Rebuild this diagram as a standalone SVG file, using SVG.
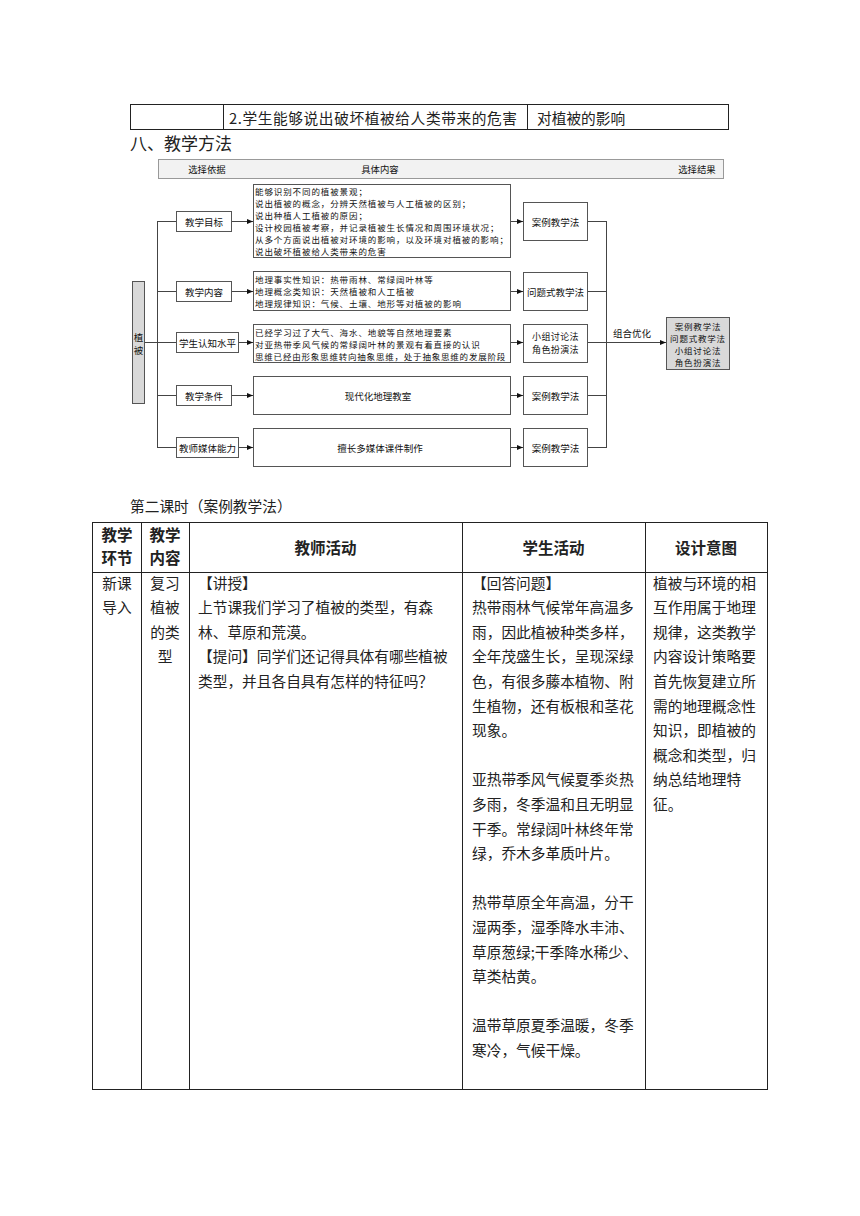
<svg xmlns="http://www.w3.org/2000/svg" width="860" height="1216" viewBox="0 0 860 1216">
<defs>
<style>
text{font-family:"Noto Sans CJK SC","Liberation Sans",sans-serif;fill:#222}
.tb{fill:none;stroke:#222;stroke-width:1}
.t15{font-size:14.7px}
.th{font-size:15.5px;font-weight:bold}
.d{font-size:9.4px;fill:#111}
.ds{font-size:8.5px;letter-spacing:0.9px;fill:#111}
.dl{font-size:9.5px;fill:#111}
.box{fill:#fff;stroke:#555;stroke-width:1}
.gbox{fill:#d9d9d9;stroke:#555;stroke-width:1}
.ln{fill:none;stroke:#444;stroke-width:1}
.c{text-anchor:middle}
</style>
<marker id="ah" viewBox="0 0 6 6" refX="6" refY="3" markerWidth="6" markerHeight="6" orient="auto" markerUnits="userSpaceOnUse">
<path d="M0,0.5 L6,3 L0,5.5 Z" fill="#111"/>
</marker>
</defs>
<rect width="860" height="1216" fill="#fff"/>

<!-- top table fragment -->
<g id="top-table">
<rect class="tb" x="130.5" y="104.5" width="598" height="25"/>
<line class="tb" x1="223.5" y1="104.5" x2="223.5" y2="129.5"/>
<line class="tb" x1="527.5" y1="104.5" x2="527.5" y2="129.5"/>
<text class="t15" x="229" y="117" dominant-baseline="central" style="letter-spacing:0.6px">2.学生能够说出破坏植被给人类带来的危害</text>
<text class="t15" x="537" y="117" dominant-baseline="central">对植被的影响</text>
</g>

<text x="130" y="142" dominant-baseline="central" style="font-size:17px">八、教学方法</text>

<!-- diagram header bar -->
<g id="header-bar">
<rect x="158.5" y="159.5" width="565" height="19" fill="#f2f2f2" stroke="#999"/>
<text class="d c" x="207" y="169" dominant-baseline="central">选择依据</text>
<text class="d c" x="380" y="169" dominant-baseline="central">具体内容</text>
<text class="d c" x="697" y="169" dominant-baseline="central">选择结果</text>
</g>

<!-- connectors -->
<g id="connectors">
<line class="ln" x1="144" y1="342.5" x2="176" y2="342.5"/>
<line class="ln" x1="157.5" y1="221.5" x2="157.5" y2="447.5"/>
<line class="ln" x1="157" y1="221.5" x2="176" y2="221.5"/>
<line class="ln" x1="157" y1="291.5" x2="176" y2="291.5"/>
<line class="ln" x1="157" y1="395.5" x2="176" y2="395.5"/>
<line class="ln" x1="157" y1="447.5" x2="176" y2="447.5"/>
<line class="ln" x1="231" y1="221.5" x2="253" y2="221.5" marker-end="url(#ah)"/>
<line class="ln" x1="231" y1="291.5" x2="253" y2="291.5" marker-end="url(#ah)"/>
<line class="ln" x1="238" y1="342.5" x2="253" y2="342.5" marker-end="url(#ah)"/>
<line class="ln" x1="231" y1="395.5" x2="253" y2="395.5" marker-end="url(#ah)"/>
<line class="ln" x1="238" y1="447.5" x2="253" y2="447.5" marker-end="url(#ah)"/>
<line class="ln" x1="510" y1="221.5" x2="523" y2="221.5" marker-end="url(#ah)"/>
<line class="ln" x1="510" y1="291.5" x2="523" y2="291.5" marker-end="url(#ah)"/>
<line class="ln" x1="510" y1="342.5" x2="523" y2="342.5" marker-end="url(#ah)"/>
<line class="ln" x1="510" y1="395.5" x2="523" y2="395.5" marker-end="url(#ah)"/>
<line class="ln" x1="510" y1="447.5" x2="523" y2="447.5" marker-end="url(#ah)"/>
<line class="ln" x1="587" y1="221.5" x2="606" y2="221.5"/>
<line class="ln" x1="587" y1="291.5" x2="606" y2="291.5"/>
<line class="ln" x1="587" y1="342.5" x2="606" y2="342.5"/>
<line class="ln" x1="587" y1="395.5" x2="606" y2="395.5"/>
<line class="ln" x1="587" y1="447.5" x2="606" y2="447.5"/>
<line class="ln" x1="606.5" y1="221" x2="606.5" y2="448"/>
<line class="ln" x1="606" y1="342.5" x2="666" y2="342.5" marker-end="url(#ah)"/>
<text class="dl c" x="632" y="333" dominant-baseline="central">组合优化</text>
</g>

<g id="node-zhibei">
<rect class="gbox" x="132.5" y="281.5" width="12" height="122"/>
<text class="dl c" x="138.5" y="337" dominant-baseline="central">植</text>
<text class="dl c" x="138.5" y="350" dominant-baseline="central">被</text>
</g>

<g id="node-mubiao">
<rect class="box" x="176.5" y="211.5" width="55" height="20"/>
<text class="dl c" x="204" y="221.5" dominant-baseline="central">教学目标</text>
</g>
<g id="node-neirong">
<rect class="box" x="176.5" y="281.5" width="55" height="20"/>
<text class="dl c" x="204" y="291.5" dominant-baseline="central">教学内容</text>
</g>
<g id="node-renzhi">
<rect class="box" x="176.5" y="332.5" width="62" height="20"/>
<text class="dl c" x="207.5" y="342.5" dominant-baseline="central">学生认知水平</text>
</g>
<g id="node-tiaojian">
<rect class="box" x="176.5" y="385.5" width="55" height="20"/>
<text class="dl c" x="204" y="395.5" dominant-baseline="central">教学条件</text>
</g>
<g id="node-meiti">
<rect class="box" x="176.5" y="437.5" width="62" height="20"/>
<text class="dl c" x="207.5" y="447.5" dominant-baseline="central">教师媒体能力</text>
</g>

<g id="content-1">
<rect class="box" x="253.5" y="184.5" width="257" height="73"/>
<text class="ds" x="255" y="190.5" dominant-baseline="central">能够识别不同的植被景观；</text>
<text class="ds" x="255" y="202.5" dominant-baseline="central">说出植被的概念，分辨天然植被与人工植被的区别；</text>
<text class="ds" x="255" y="214.5" dominant-baseline="central">说出种植人工植被的原因；</text>
<text class="ds" x="255" y="226.5" dominant-baseline="central">设计校园植被考察，并记录植被生长情况和周围环境状况；</text>
<text class="ds" x="255" y="238.5" dominant-baseline="central">从多个方面说出植被对环境的影响，以及环境对植被的影响；</text>
<text class="ds" x="255" y="250.5" dominant-baseline="central">说出破坏植被给人类带来的危害</text>
</g>
<g id="content-2">
<rect class="box" x="253.5" y="271.5" width="257" height="39"/>
<text class="ds" x="255" y="279" dominant-baseline="central">地理事实性知识：热带雨林、常绿阔叶林等</text>
<text class="ds" x="255" y="291" dominant-baseline="central">地理概念类知识：天然植被和人工植被</text>
<text class="ds" x="255" y="303" dominant-baseline="central">地理规律知识：气候、土壤、地形等对植被的影响</text>
</g>
<g id="content-3">
<rect class="box" x="253.5" y="324.5" width="257" height="38"/>
<text class="ds" x="255" y="331.5" dominant-baseline="central">已经学习过了大气、海水、地貌等自然地理要素</text>
<text class="ds" x="255" y="343.5" dominant-baseline="central">对亚热带季风气候的常绿阔叶林的景观有着直接的认识</text>
<text class="ds" x="255" y="355.5" dominant-baseline="central" style="letter-spacing:0.8px">思维已经由形象思维转向抽象思维，处于抽象思维的发展阶段</text>
</g>
<g id="content-4">
<rect class="box" x="253.5" y="376.5" width="257" height="38"/>
<text class="dl c" x="378" y="395.5" dominant-baseline="central">现代化地理教室</text>
</g>
<g id="content-5">
<rect class="box" x="253.5" y="428.5" width="257" height="38"/>
<text class="dl c" x="380" y="447.5" dominant-baseline="central">擅长多媒体课件制作</text>
</g>

<g id="method-1">
<rect class="box" x="523.5" y="202.5" width="64" height="38"/>
<text class="dl c" x="555.5" y="221.5" dominant-baseline="central">案例教学法</text>
</g>
<g id="method-2">
<rect class="box" x="523.5" y="272.5" width="64" height="38"/>
<text class="dl c" x="555.5" y="291.5" dominant-baseline="central">问题式教学法</text>
</g>
<g id="method-3">
<rect class="box" x="523.5" y="324.5" width="64" height="38"/>
<text class="c" x="555.5" y="336.5" dominant-baseline="central" style="font-size:9px;letter-spacing:0.4px;fill:#111">小组讨论法</text>
<text class="c" x="555.5" y="349.5" dominant-baseline="central" style="font-size:9px;letter-spacing:0.4px;fill:#111">角色扮演法</text>
</g>
<g id="method-4">
<rect class="box" x="523.5" y="376.5" width="64" height="38"/>
<text class="dl c" x="555.5" y="395.5" dominant-baseline="central">案例教学法</text>
</g>
<g id="method-5">
<rect class="box" x="523.5" y="428.5" width="64" height="38"/>
<text class="dl c" x="555.5" y="447.5" dominant-baseline="central">案例教学法</text>
</g>
<g id="result">
<rect class="gbox" x="666.5" y="317.5" width="63" height="52"/>
<text class="ds c" x="698" y="325.5" dominant-baseline="central" style="letter-spacing:0.8px">案例教学法</text>
<text class="ds c" x="698" y="337.5" dominant-baseline="central" style="letter-spacing:0.8px">问题式教学法</text>
<text class="ds c" x="698" y="349.5" dominant-baseline="central" style="letter-spacing:0.8px">小组讨论法</text>
<text class="ds c" x="698" y="361.5" dominant-baseline="central" style="letter-spacing:0.8px">角色扮演法</text>
</g>

<text class="t15" x="130" y="505" dominant-baseline="central">第二课时（案例教学法）</text>

<!-- lesson table -->
<g id="lesson-table">
<rect class="tb" x="92.5" y="522.5" width="675" height="567"/>
<line class="tb" x1="92.5" y1="572.5" x2="767.5" y2="572.5"/>
<line class="tb" x1="141.5" y1="522.5" x2="141.5" y2="1089.5"/>
<line class="tb" x1="189.5" y1="522.5" x2="189.5" y2="1089.5"/>
<line class="tb" x1="462.5" y1="522.5" x2="462.5" y2="1089.5"/>
<line class="tb" x1="645.5" y1="522.5" x2="645.5" y2="1089.5"/>

<text class="th c" x="117" y="534" dominant-baseline="central">教学</text>
<text class="th c" x="117" y="557" dominant-baseline="central">环节</text>
<text class="th c" x="165" y="534" dominant-baseline="central">教学</text>
<text class="th c" x="165" y="557" dominant-baseline="central">内容</text>
<text class="th c" x="325.5" y="547" dominant-baseline="central">教师活动</text>
<text class="th c" x="553.5" y="547" dominant-baseline="central">学生活动</text>
<text class="th c" x="706" y="547" dominant-baseline="central">设计意图</text>

<g class="t15">
<text class="c" x="117" y="582" dominant-baseline="central">新课</text>
<text class="c" x="117" y="606.6" dominant-baseline="central">导入</text>
<text class="c" x="165" y="582" dominant-baseline="central">复习</text>
<text class="c" x="165" y="606.6" dominant-baseline="central">植被</text>
<text class="c" x="165" y="631.2" dominant-baseline="central">的类</text>
<text class="c" x="165" y="655.8" dominant-baseline="central">型</text>

<text x="198" y="582" dominant-baseline="central">【讲授】</text>
<text x="198" y="606.6" dominant-baseline="central">上节课我们学习了植被的类型，有森</text>
<text x="198" y="631.2" dominant-baseline="central">林、草原和荒漠。</text>
<text x="198" y="655.8" dominant-baseline="central">【提问】同学们还记得具体有哪些植被</text>
<text x="198" y="680.4" dominant-baseline="central">类型，并且各自具有怎样的特征吗？</text>

<text x="472" y="582" dominant-baseline="central">【回答问题】</text>
<text x="472" y="606.6" dominant-baseline="central">热带雨林气候常年高温多</text>
<text x="472" y="631.2" dominant-baseline="central">雨，因此植被种类多样，</text>
<text x="472" y="655.8" dominant-baseline="central">全年茂盛生长，呈现深绿</text>
<text x="472" y="680.4" dominant-baseline="central">色，有很多藤本植物、附</text>
<text x="472" y="705" dominant-baseline="central">生植物，还有板根和茎花</text>
<text x="472" y="729.6" dominant-baseline="central">现象。</text>
<text x="472" y="778.8" dominant-baseline="central">亚热带季风气候夏季炎热</text>
<text x="472" y="803.4" dominant-baseline="central">多雨，冬季温和且无明显</text>
<text x="472" y="828" dominant-baseline="central">干季。常绿阔叶林终年常</text>
<text x="472" y="852.6" dominant-baseline="central">绿，乔木多革质叶片。</text>
<text x="472" y="901.8" dominant-baseline="central">热带草原全年高温，分干</text>
<text x="472" y="926.4" dominant-baseline="central">湿两季，湿季降水丰沛、</text>
<text x="472" y="951" dominant-baseline="central">草原葱绿;干季降水稀少、</text>
<text x="472" y="975.6" dominant-baseline="central">草类枯黄。</text>
<text x="472" y="1024.8" dominant-baseline="central">温带草原夏季温暖，冬季</text>
<text x="472" y="1049.4" dominant-baseline="central">寒冷，气候干燥。</text>

<text x="653" y="582" dominant-baseline="central">植被与环境的相</text>
<text x="653" y="606.6" dominant-baseline="central">互作用属于地理</text>
<text x="653" y="631.2" dominant-baseline="central">规律，这类教学</text>
<text x="653" y="655.8" dominant-baseline="central">内容设计策略要</text>
<text x="653" y="680.4" dominant-baseline="central">首先恢复建立所</text>
<text x="653" y="705" dominant-baseline="central">需的地理概念性</text>
<text x="653" y="729.6" dominant-baseline="central">知识，即植被的</text>
<text x="653" y="754.2" dominant-baseline="central">概念和类型，归</text>
<text x="653" y="778.8" dominant-baseline="central">纳总结地理特</text>
<text x="653" y="803.4" dominant-baseline="central">征。</text>
</g>
</g>
</svg>
